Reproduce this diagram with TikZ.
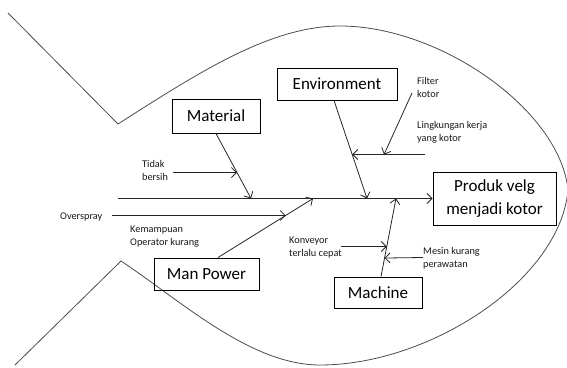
\documentclass[tikz,border=0pt]{standalone}
\usepackage{fontspec}
\setmainfont{Carlito}
\usetikzlibrary{arrows.meta,calc}
\tikzset{
  causebox/.style={draw=black, line width=1pt, inner sep=0pt, align=center,
                   font=\fontsize{17}{23}\selectfont},
  causearr/.style={-{Straight Barb[length=5pt,width=10pt]}, draw=black!85, line width=0.8pt},
  causelab/.style={font=\fontsize{10.3}{13}\selectfont, align=left, anchor=west,
                   inner sep=0pt, text=black!90},
  fishline/.style={draw=black!70, line width=0.8pt},
}
\begin{document}
\begin{tikzpicture}[x=1pt,y=-1pt]
\useasboundingbox (0,0) rectangle (567,367);
% fish outline
\draw[fishline] (8,13) -- (118,124)
  .. controls (198,73) and (270,26) .. (340,26)
  .. controls (440,26) and (560,110) .. (568,190)
  .. controls (560,280) and (430,365) .. (320,365)
  .. controls (250,365) and (180,300) .. (121,261) -- (15,365);
% boxes
\node[causebox, minimum width=88pt, minimum height=34pt] (mat) at (216,116) {Material};
\node[causebox, minimum width=120pt, minimum height=32pt] (env) at (337,84) {Environment};
\node[causebox, minimum width=105pt, minimum height=32pt] (mp) at (206.5,274) {Man Power};
\node[causebox, minimum width=88pt, minimum height=31pt] (mach) at (378,292.5) {Machine};
\node[causebox, minimum width=123pt, minimum height=53pt] (prod) at (494.5,198.5)
  {Produk velg\\menjadi kotor};
% spine
\coordinate (tail) at (118,198.5);
\draw[causearr] (tail) -- (prod.west);
% branches
\coordinate (matj) at (251,198.5);
\coordinate (envs) at ([xshift=-3pt]env.south);
\coordinate (envj) at (367,198.5);
\coordinate (mps) at ([xshift=11.5pt]mp.north);
\coordinate (mpj) at (313,198.5);
\coordinate (machs) at ([xshift=3pt]mach.north);
\coordinate (machj) at (396,198.5);
\draw[causearr] (mat.south) -- (matj);
\draw[causearr] (envs) -- (envj);
\draw[causearr] (mps) -- (mpj);
\draw[causearr] (machs) -- (machj);
% sub causes
\coordinate (matc) at ($(mat.south)!0.6!(matj)$);
\coordinate (envc) at ($(envs)!0.551!(envj)$);
\coordinate (mpc) at ($(mps)!0.712!(mpj)$);
\coordinate (machc) at ($(machs)!0.385!(machj)$);
\coordinate (machd) at ($(machs)!0.237!(machj)$);
\coordinate (tbs) at (173,0);
\coordinate (lks) at (425,0);
\coordinate (fks) at (412,93);
\coordinate (fke) at (384,0);
\coordinate (ovs) at (112,0);
\coordinate (kvs) at (341,0);
\coordinate (mks) at (423,257.5);
\draw[causearr] (matc -| tbs) -- (matc);
\draw[causearr] (envc -| lks) -- (envc);
\draw[causearr] (fks) -- (envc -| fke);
\draw[causearr] (mpc -| ovs) -- (mpc);
\draw[causearr] (machc -| kvs) -- (machc);
\draw[causearr] (mks) -- (machd);
% labels
\node[causelab] (tidak) at (142,170.5) {Tidak\\bersih};
\node[causelab] (over) at (60,216.5) {Overspray};
\node[causelab] (kemam) at (130,237) {Kemampuan\\Operator kurang};
\node[causelab] (filter) at (417,87.5) {Filter\\kotor};
\node[causelab] (lingk) at (417,132) {Lingkungan kerja\\yang kotor};
\node[causelab] (konv) at (289,248) {Konveyor\\terlalu cepat};
\node[causelab] (mesin) at (423,258) {Mesin kurang\\perawatan};
\end{tikzpicture}
\end{document}
